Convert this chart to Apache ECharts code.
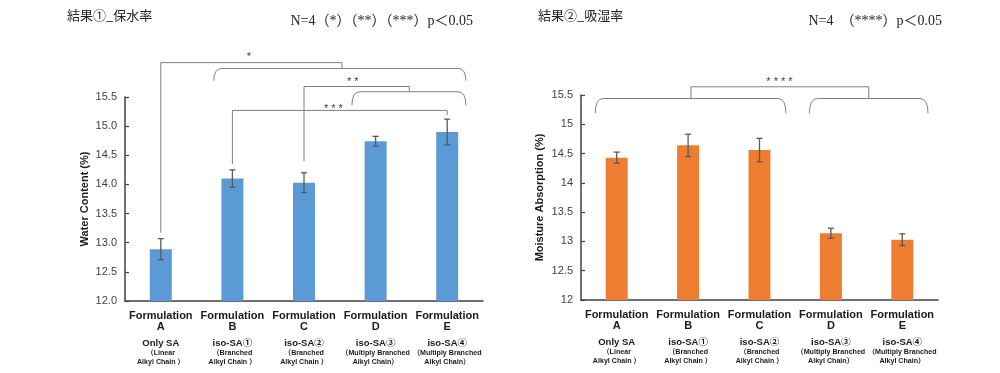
<!DOCTYPE html>
<html>
<head>
<meta charset="utf-8">
<script src="https://cdn.jsdelivr.net/npm/echarts@6/dist/echarts.min.js"></script>
<style>
html,body{margin:0;padding:0;background:#fff;}
#chart{width:1000px;height:373px;}
</style>
</head>
<body>
<div id="chart"></div>
<script>
// ---- data ----
const formulationLetters = ['A', 'B', 'C', 'D', 'E'];
const materialNames = ['Only SA', 'iso-SA①', 'iso-SA②', 'iso-SA③', 'iso-SA④'];
const chainLine1 = ['（Linear', '（Branched', '（Branched', '（Multiply Branched', '（Multiply Branched'];
const chainLine2 = ['Alkyl Chain ）', 'Alkyl Chain ）', 'Alkyl Chain ）', 'Alkyl Chain）', 'Alkyl Chain）'];

const waterMean = [12.89, 14.10, 14.03, 14.74, 14.90];
const waterErr  = [0.18, 0.15, 0.17, 0.085, 0.22];
const moistMean = [14.43, 14.64, 14.56, 13.14, 13.03];
const moistErr  = [0.095, 0.19, 0.20, 0.085, 0.10];

const yTicksMin = 12, yTicksMax = 15.5, yTicksStep = 0.5;

const leftTitle = '結果①_保水率';
const leftNote = 'N=4（*）（**）（***）p＜0.05';
const rightTitle = '結果②_吸湿率';
const rightNote = 'N=4　（****）p＜0.05';

// significance annotations (category index, value units)
// links: [xLeft, xRight, yTop, yLeftEnd, yRightEnd]
const leftLinks = [
  [0, 2.53, 16.09, 13.17, 15.99],
  [2, 3.47, 15.68, 14.40, 15.59],
  [1, 4, 15.27, 14.35, 15.19]
];
// braces: [xLeft, xRight, yTop, yEnds]
const leftBraces = [
  [0.74, 4.26, 15.99, 15.78],
  [2.67, 4.26, 15.59, 15.36]
];
const leftStars = [
  [1.23, 16.19, '*'],
  [2.68, 15.75, '* *'],
  [2.41, 15.29, '* * *']
];
const rightLinks = [
  [1.04, 3.53, 15.64, 15.44, 15.44]
];
const rightBraces = [
  [-0.30, 2.37, 15.44, 15.19],
  [2.70, 4.36, 15.44, 15.19]
];
const rightStars = [
  [2.28, 15.72, '* * * *']
];

// ---- helpers ----
const LINE = '#7f7f7f';
function px(api, xi, yv) {
  const a = api.coord([0, yv]);
  const b = api.coord([1, yv]);
  return [a[0] + xi * (b[0] - a[0]), a[1]];
}
function renderErr(params, api) {
  const x = api.value(0), m = api.value(1), e = api.value(2);
  const t = api.coord([x, m + e]);
  const b = api.coord([x, m - e]);
  const hw = 3;
  const st = { stroke: '#595959', lineWidth: 1.3 };
  return { type: 'group', children: [
    { type: 'line', shape: { x1: t[0], y1: t[1], x2: b[0], y2: b[1] }, style: st },
    { type: 'line', shape: { x1: t[0] - hw, y1: t[1], x2: t[0] + hw, y2: t[1] }, style: st },
    { type: 'line', shape: { x1: b[0] - hw, y1: b[1], x2: b[0] + hw, y2: b[1] }, style: st }
  ]};
}
function renderLink(params, api) {
  const x1 = api.value(0), x2 = api.value(1), yt = api.value(2), yl = api.value(3), yr = api.value(4);
  const a = px(api, x1, yl), b = px(api, x1, yt), c = px(api, x2, yt), d = px(api, x2, yr);
  return { type: 'polyline', shape: { points: [a, b, c, d] }, style: { stroke: LINE, lineWidth: 1, fill: null } };
}
function renderBrace(params, api) {
  const x1 = api.value(0), x2 = api.value(1), yt = api.value(2), ye = api.value(3);
  const a = px(api, x1, ye), b = px(api, x1, yt), c = px(api, x2, yt), d = px(api, x2, ye);
  const r = 8;
  const path = 'M' + a[0] + ' ' + a[1] +
    ' Q' + b[0] + ' ' + b[1] + ' ' + (b[0] + r) + ' ' + b[1] +
    ' L' + (c[0] - r) + ' ' + c[1] +
    ' Q' + c[0] + ' ' + c[1] + ' ' + d[0] + ' ' + d[1];
  return { type: 'path', shape: { pathData: path }, style: { stroke: LINE, lineWidth: 1, fill: null } };
}
function makeStarRenderer(list) {
  return function (params, api) {
    const s = list[params.dataIndex];
    const p = px(api, s[0], s[1]);
    return { type: 'text', style: { text: s[2], x: p[0], y: p[1], align: 'center', verticalAlign: 'middle',
      fontSize: 11, fontFamily: 'Liberation Sans', fill: '#404040' } };
  };
}

const xLabelRich = {
  f: { fontSize: 11, fontWeight: 'bold', lineHeight: 11, color: '#1a1a1a', fontFamily: 'Liberation Sans, Noto Sans CJK JP' },
  g: { fontSize: 1, lineHeight: 7 },
  s: { fontSize: 9.5, fontWeight: 'bold', lineHeight: 9, color: '#1a1a1a', fontFamily: 'Liberation Sans, Noto Sans CJK JP' },
  t: { fontSize: 7.1, fontWeight: 'bold', lineHeight: 9.5, color: '#1a1a1a', fontFamily: 'Liberation Sans, Noto Sans CJK JP' }
};
function xLabelFormatter(value, index) {
  return '{f|Formulation}\n{f|' + formulationLetters[index] + '}\n{g| }\n{s|' + materialNames[index] +
    '}\n{t|' + chainLine1[index] + '}\n{t|' + chainLine2[index] + '}';
}

function xAxisDef(gi) {
  return {
    type: 'category', gridIndex: gi, data: formulationLetters,
    axisLine: { lineStyle: { color: '#404040', width: 1.5 } },
    axisTick: { show: false },
    axisLabel: { interval: 0, margin: 9, formatter: xLabelFormatter, rich: xLabelRich, verticalAlign: 'top' }
  };
}
function yAxisDef(gi, name, gap, fmt) {
  return {
    type: 'value', gridIndex: gi, min: yTicksMin, max: yTicksMax, interval: yTicksStep,
    name: name, nameLocation: 'middle', nameGap: gap, nameRotate: 90,
    nameTextStyle: { fontSize: 11, fontWeight: 'bold', color: '#1a1a1a', fontFamily: 'Liberation Sans' },
    axisLine: { show: true, lineStyle: { color: '#404040', width: 1.5 } },
    axisTick: { show: true, inside: true, length: 4, lineStyle: { color: '#404040', width: 1.2 } },
    splitLine: { show: false },
    axisLabel: { fontSize: 11, color: '#404040', fontFamily: 'Liberation Sans', margin: 8, formatter: fmt }
  };
}

const titleStyle = { fontSize: 13, fontWeight: 'normal', color: '#222', fontFamily: 'Noto Sans CJK JP' };
const noteStyle = { fontSize: 14, fontWeight: 'normal', color: '#222', fontFamily: 'Liberation Serif, Noto Sans CJK JP' };

const chart = echarts.init(document.getElementById('chart'), null, { renderer: 'canvas' });
chart.setOption({
  animation: false,
  backgroundColor: '#ffffff',
  title: [
    { text: leftTitle, left: 67, top: 9, padding: 0, textStyle: titleStyle },
    { text: leftNote, right: 527, top: 14, padding: 0, textStyle: noteStyle },
    { text: rightTitle, left: 538, top: 9, padding: 0, textStyle: titleStyle },
    { text: rightNote, right: 58, top: 14, padding: 0, textStyle: noteStyle }
  ],
  grid: [
    { left: 125, top: 97, width: 358, height: 204 },
    { left: 581, top: 95, width: 357, height: 205 }
  ],
  xAxis: [xAxisDef(0), xAxisDef(1)],
  yAxis: [
    yAxisDef(0, 'Water Content (%)', 35, function (v) { return v.toFixed(1); }),
    yAxisDef(1, 'Moisture Absorption (%)', 36, null)
  ],
  series: [
    { type: 'bar', xAxisIndex: 0, yAxisIndex: 0, data: waterMean, barWidth: 22, itemStyle: { color: '#5B9BD5' } },
    { type: 'bar', xAxisIndex: 1, yAxisIndex: 1, data: moistMean, barWidth: 22, itemStyle: { color: '#ED7D31' } },
    { type: 'custom', xAxisIndex: 0, yAxisIndex: 0, renderItem: renderErr, z: 5,
      data: waterMean.map((m, i) => [i, m, waterErr[i]]), encode: { x: 0, y: 1 } },
    { type: 'custom', xAxisIndex: 1, yAxisIndex: 1, renderItem: renderErr, z: 5,
      data: moistMean.map((m, i) => [i, m, moistErr[i]]), encode: { x: 0, y: 1 } },
    { type: 'custom', xAxisIndex: 0, yAxisIndex: 0, renderItem: renderLink, data: leftLinks, encode: { x: 0, y: 2 }, clip: false },
    { type: 'custom', xAxisIndex: 0, yAxisIndex: 0, renderItem: renderBrace, data: leftBraces, encode: { x: 0, y: 2 }, clip: false },
    { type: 'custom', xAxisIndex: 0, yAxisIndex: 0, renderItem: makeStarRenderer(leftStars), data: leftStars.map(s => [s[0], s[1]]), encode: { x: 0, y: 1 }, clip: false },
    { type: 'custom', xAxisIndex: 1, yAxisIndex: 1, renderItem: renderLink, data: rightLinks, encode: { x: 0, y: 2 }, clip: false },
    { type: 'custom', xAxisIndex: 1, yAxisIndex: 1, renderItem: renderBrace, data: rightBraces, encode: { x: 0, y: 2 }, clip: false },
    { type: 'custom', xAxisIndex: 1, yAxisIndex: 1, renderItem: makeStarRenderer(rightStars), data: rightStars.map(s => [s[0], s[1]]), encode: { x: 0, y: 1 }, clip: false }
  ]
});
</script>
</body>
</html>
